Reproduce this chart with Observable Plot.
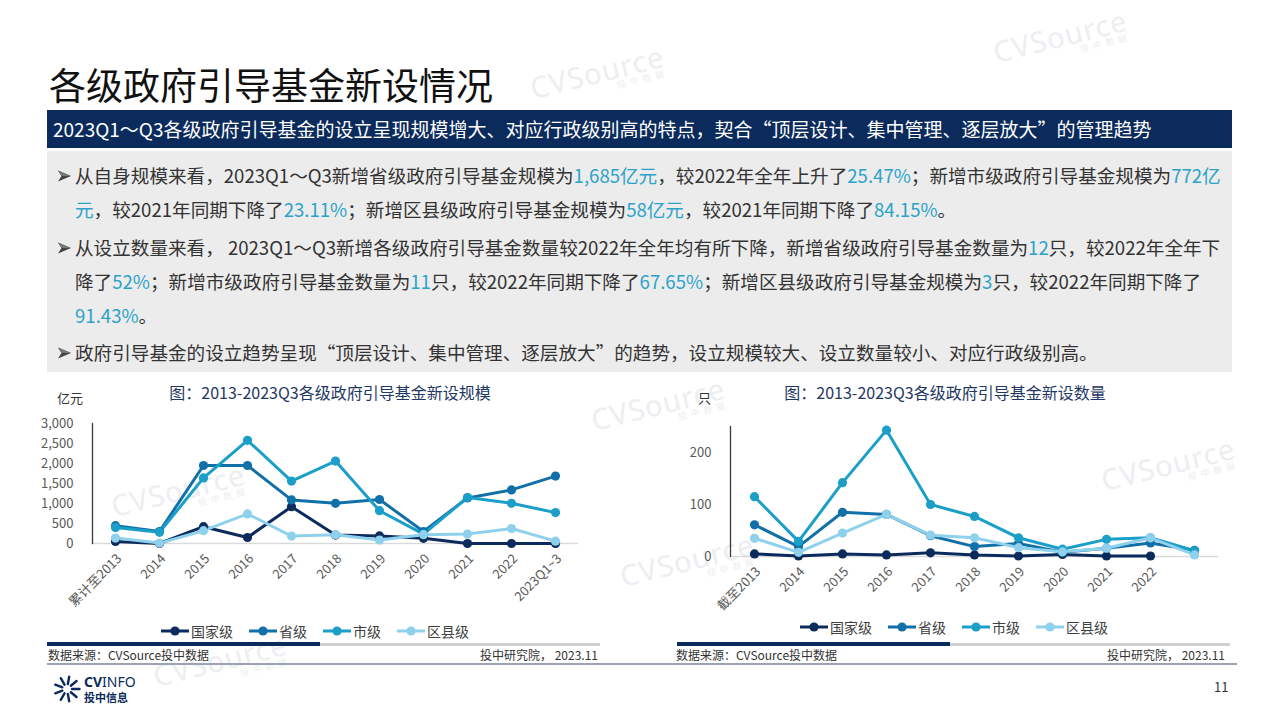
<!DOCTYPE html>
<html>
<head>
<meta charset="utf-8">
<script src="https://cdn.jsdelivr.net/npm/d3@7"></script>
<script src="https://cdn.jsdelivr.net/npm/@observablehq/plot@0.6"></script>
<style>
  html, body { margin: 0; padding: 0; background: #fff; }
  #slide { position: relative; width: 1280px; height: 720px; overflow: hidden; background: #fff;
    font-family: "Noto Sans CJK SC", "Noto Sans", sans-serif; color: #333; }
  .abs { position: absolute; }
  .wm { position: absolute; color: #eceef1; font-family: "Noto Sans", sans-serif; font-size: 29px; letter-spacing: 1px;
    transform: rotate(-14deg); transform-origin: left top; white-space: nowrap; line-height: 1; z-index: 0; }
  .wm span { display: block; font-size: 9px; letter-spacing: 4px; text-align: right; margin-top: -1px; font-family: "Noto Sans CJK SC"; }
  #title { left: 49px; top: 63px; font-size: 37px; line-height: 42px; color: #111; white-space: nowrap; }
  #banner { left: 47px; top: 110px; width: 1185px; height: 38px; background: #0b2b5c; color: #fff;
    font-size: 19px; line-height: 38px; padding-left: 6px; box-sizing: border-box; white-space: nowrap; }
  #box { left: 47px; top: 151px; width: 1185px; height: 221px; background: #ececec; }
  .para { position: absolute; left: 56px; font-size: 18.6px; line-height: 34px; color: #333; white-space: nowrap; }
  .para .b { display: inline-block; width: 19px; vertical-align: -1px; }
  .para .ind { padding-left: 19px; }
  .hl { color: #2ba3c9; }
  .ctitle { position: absolute; font-size: 16px; color: #1f3864; white-space: nowrap; transform: translateX(-50%); line-height: 20px; }
  .unit { position: absolute; font-size: 13px; color: #333; line-height: 16px; }
  .legend { position: absolute; display: flex; gap: 16px; transform: translateX(-50%); font-size: 14px; color: #404040; line-height: 18px; white-space: nowrap; }
  .legend .it { display: flex; align-items: center; gap: 2px; }
  .src { position: absolute; font-size: 12px; color: #333; line-height: 14px; white-space: nowrap; }
  .chart { position: absolute; z-index: 2; }
</style>
</head>
<body>
<div id="slide"></div>
<script>
// ---------------- data ----------------
const levels = ["国家级", "省级", "市级", "区县级"];
const levelColors = ["#0b2b5c", "#1170a8", "#1b9fc8", "#8fd1ec"];

// 新设规模（亿元）
const scaleCategories = ["累计至2013", "2014", "2015", "2016", "2017", "2018", "2019", "2020", "2021", "2022", "2023Q1~3"];
const scaleNational   = [50, 0, 420, 150, 920, 210, 190, 130, 0, 0, 0];
const scaleProvincial = [445, 300, 1950, 1950, 1090, 1005, 1100, 300, 1140, 1340, 1685];
const scaleCity       = [400, 280, 1640, 2580, 1560, 2060, 820, 235, 1150, 1005, 772];
const scaleDistrict   = [135, 10, 320, 740, 185, 220, 85, 220, 235, 375, 58];
const scaleTicks = [0, 500, 1000, 1500, 2000, 2500, 3000];
const scaleTickLabels = ["累计至2013", "2014", "2015", "2016", "2017", "2018", "2019", "2020", "2021", "2022", "2023Q1~3"];

// 新设数量（只）
const countCategories = ["截至2013", "2014", "2015", "2016", "2017", "2018", "2019", "2020", "2021", "2022", "2023Q1~3"];
const countNational   = [5, 1, 5, 3, 7, 3, 1, 4, 1, 1, null];
const countProvincial = [61, 19, 85, 81, 40, 19, 25, 8, 16, 26, 12];
const countCity       = [115, 29, 142, 243, 100, 77, 36, 14, 33, 36, 11];
const countDistrict   = [35, 8, 45, 81, 41, 36, 17, 9, 16, 36, 3];
const countTicks = [0, 100, 200];
const countTickLabels = ["截至2013", "2014", "2015", "2016", "2017", "2018", "2019", "2020", "2021", "2022", ""];

// ---------------- helpers ----------------
const slide = document.getElementById("slide");
function el(tag, cls, style, html) {
  const e = document.createElement(tag);
  if (cls) e.className = cls;
  if (style) Object.assign(e.style, style);
  if (html != null) e.innerHTML = html;
  slide.appendChild(e);
  return e;
}

// watermarks
[[990, 68], [527, 104], [588, 436], [1098, 496], [617, 592], [108, 522], [150, 692]].forEach(([x, y]) => {
  el("div", "wm", {left: x + "px", top: (y - 30) + "px"}, "CVSource<span>投中数据</span>");
});

el("div", "abs", null, "各级政府引导基金新设情况").id = "title";
el("div", "abs", null, "2023Q1～Q3各级政府引导基金的设立呈现规模增大、对应行政级别高的特点，契合“顶层设计、集中管理、逐层放大”的管理趋势").id = "banner";
el("div", "abs", null, "").id = "box";

const B = '<svg class="b" width="19" height="16" viewBox="0 0 19 16"><path d="M2,2.5 L15,8 L2,13.5 L5.5,8 Z" fill="#444"/><path d="M2,2.5 L15,8 L5.5,8 Z" fill="#777"/></svg>';
el("div", "para", {top: "158px"},
  B + '从自身规模来看，2023Q1～Q3新增省级政府引导基金规模为<span class="hl">1,685亿元</span>，较2022年全年上升了<span class="hl">25.47%</span>；新增市级政府引导基金规模为<span class="hl">772亿</span><br>' +
  '<span class="ind"><span class="hl">元</span>，较2021年同期下降了<span class="hl">23.11%</span>；新增区县级政府引导基金规模为<span class="hl">58亿元</span>，较2021年同期下降了<span class="hl">84.15%</span>。</span>');
el("div", "para", {top: "230px"},
  B + '从设立数量来看， 2023Q1～Q3新增各级政府引导基金数量较2022年全年均有所下降，新增省级政府引导基金数量为<span class="hl">12</span>只，较2022年全年下<br>' +
  '<span class="ind">降了<span class="hl">52%</span>；新增市级政府引导基金数量为<span class="hl">11</span>只，较2022年同期下降了<span class="hl">67.65%</span>；新增区县级政府引导基金规模为<span class="hl">3</span>只，较2022年同期下降了</span><br>' +
  '<span class="ind"><span class="hl">91.43%</span>。</span>');
el("div", "para", {top: "335px"},
  B + '政府引导基金的设立趋势呈现“顶层设计、集中管理、逐层放大”的趋势，设立规模较大、设立数量较小、对应行政级别高。');

// chart titles & units
el("div", "ctitle", {left: "330px", top: "382px"}, "图：2013-2023Q3各级政府引导基金新设规模");
el("div", "ctitle", {left: "945px", top: "382px"}, "图：2013-2023Q3各级政府引导基金新设数量");
el("div", "unit", {left: "57px", top: "390px"}, "亿元");
el("div", "unit", {left: "698px", top: "390px"}, "只");

// ---------------- charts ----------------
function buildChart(cats, seriesValues, tickLabels, yDomain, yTicks, opts) {
  const data = [];
  seriesValues.forEach((vals, s) => {
    vals.forEach((v, i) => { if (v != null) data.push({cat: cats[i], value: v, level: levels[s]}); });
  });
  const labelOf = new Map(cats.map((c, i) => [c, tickLabels[i]]));
  return Plot.plot({
    width: opts.width, height: opts.height,
    marginLeft: opts.marginLeft, marginRight: opts.marginRight,
    marginTop: opts.marginTop, marginBottom: opts.marginBottom,
    style: {fontFamily: '"Noto Sans CJK SC", sans-serif', fontSize: "13px", color: "#595959", background: "transparent", overflow: "visible"},
    x: {type: "point", domain: cats, padding: 0.5, label: null},
    y: {domain: yDomain, label: null},
    color: {domain: levels, range: levelColors},
    marks: [
      Plot.axisX({tickRotate: -45, tickSize: 0, tickPadding: 10, dx: 4, dy: 3, label: null, fontSize: 13,
        tickFormat: d => labelOf.get(d)}),
      Plot.axisY(yTicks, {tickSize: 0, tickPadding: 19, label: null, fontSize: 13, tickFormat: d3.format(",")}),
      Plot.ruleY([0], {stroke: "#d9d9d9", strokeWidth: 1.5}),
      Plot.frame({anchor: "left", stroke: "#3a3a3a", strokeWidth: 1.3}),
      Plot.line(data, {x: "cat", y: "value", z: "level", stroke: "level", strokeWidth: 3, strokeLinejoin: "round"}),
      Plot.dot(data, {x: "cat", y: "value", fill: "level", r: 4.6})
    ]
  });
}

const left = buildChart(scaleCategories, [scaleNational, scaleProvincial, scaleCity, scaleDistrict], scaleTickLabels,
  [0, 3000], scaleTicks, {width: 560, height: 210, marginLeft: 52, marginRight: 22, marginTop: 13, marginBottom: 77});
const lw = el("div", "chart", {left: "40px", top: "410px"});
lw.appendChild(left);

const right = buildChart(countCategories, [countNational, countProvincial, countCity, countDistrict], countTickLabels,
  [0, 250], countTicks, {width: 570, height: 210, marginLeft: 60, marginRight: 22, marginTop: 16, marginBottom: 64});
const rw = el("div", "chart", {left: "670px", top: "410px"});
rw.appendChild(right);

// legends
function legend(cx, top) {
  const lg = el("div", "legend", {left: cx + "px", top: top + "px"});
  levels.forEach((name, i) => {
    const it = document.createElement("div");
    it.className = "it";
    it.innerHTML = `<svg width="28" height="12"><line x1="0" y1="6" x2="28" y2="6" stroke="${levelColors[i]}" stroke-width="3"/><circle cx="14" cy="6" r="4.6" fill="${levelColors[i]}"/></svg><span>${name}</span>`;
    lg.appendChild(it);
  });
}
legend(315, 622);
legend(954, 618);

// footer bars
el("div", "abs", {left: "47px", top: "642px", width: "273px", height: "4px", background: "#0b2b5c"});
el("div", "abs", {left: "320px", top: "643px", width: "280px", height: "3px", background: "#d0d0d0"});
el("div", "abs", {left: "677px", top: "642px", width: "273px", height: "4px", background: "#0b2b5c"});
el("div", "abs", {left: "950px", top: "643px", width: "280px", height: "3px", background: "#d0d0d0"});
el("div", "src", {left: "48px", top: "648px"}, "数据来源：CVSource投中数据");
el("div", "src", {left: "470px", top: "648px", width: "128px", textAlign: "right"}, "投中研究院， 2023.11");
el("div", "src", {left: "676px", top: "648px"}, "数据来源：CVSource投中数据");
el("div", "src", {left: "1080px", top: "648px", width: "145px", textAlign: "right"}, "投中研究院， 2023.11");
el("div", "abs", {left: "47px", top: "663px", width: "1190px", height: "2px", background: "#9ca3b0"});

// logo
const logo = el("div", "abs", {left: "54px", top: "674px", width: "100px", height: "32px"});
let rays = "";
for (let k = 0; k < 9; k++) {
  const a = (-160 + k * 40) * Math.PI / 180;
  const r1 = 5, r2 = 12.5;
  rays += `<line x1="${13 + r1 * Math.cos(a)}" y1="${15 + r1 * Math.sin(a)}" x2="${13 + r2 * Math.cos(a)}" y2="${15 + r2 * Math.sin(a)}" stroke="#0b2b5c" stroke-width="2.4" stroke-linecap="round"/>`;
}
logo.innerHTML = `<svg width="28" height="30" style="position:absolute;left:0;top:0">${rays}</svg>
  <div style="position:absolute;left:30px;top:0px;font-family:'Noto Sans',sans-serif;font-size:14px;line-height:15px;color:#0b2b5c;white-space:nowrap;"><b>CV</b>INFO</div>
  <div style="position:absolute;left:30px;top:17px;font-size:11px;line-height:12px;font-weight:bold;color:#0b2b5c;white-space:nowrap;">投中信息</div>`;

el("div", "src", {left: "1214px", top: "680px", fontSize: "13px"}, "11");
</script>
</body>
</html>
